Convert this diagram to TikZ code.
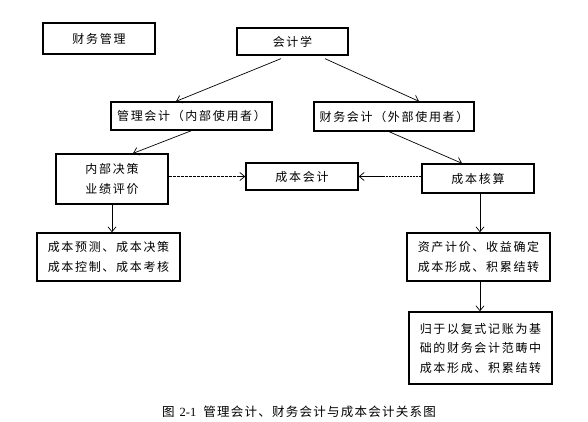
\documentclass[tikz,border=0pt]{standalone}
\usepackage{fontspec}
\setmainfont{Liberation Serif}
\newfontfamily\cjk[LetterSpace=14]{Noto Sans CJK SC}
\newfontfamily\cjkcap[LetterSpace=10]{Noto Sans CJK SC}
\usetikzlibrary{arrows.meta}
\begin{document}
\begin{tikzpicture}[x=1pt,y=-1pt,
  box/.style={draw, line width=1.3pt, inner sep=0pt, align=center,
    font=\cjk\fontsize{12}{19.5}\selectfont},
  arr/.style={line width=0.7pt, -{Straight Barb[length=5pt,width=8pt]}},
  dashA/.style={line width=1.5pt, dash pattern=on 3pt off 1pt},
  dashB/.style={line width=1pt, dash pattern=on 2pt off 1pt}]
\useasboundingbox (0,0) rectangle (588,422);
\node[box, minimum width=112pt, minimum height=31pt] (fm) at (99,38.5) {财务管理};
\node[box, minimum width=111pt, minimum height=27pt] (kj) at (292.5,41.5) {会计学};
\node[box, minimum width=161pt, minimum height=28pt] (gl) at (191.5,116) {管理会计（内部使用者）};
\node[box, minimum width=160pt, minimum height=29pt] (cw) at (394,116.5) {财务会计（外部使用者）};
\node[box, minimum width=112pt, minimum height=50pt] (nb) at (112,179) {内部决策\\业绩评价};
\node[box, minimum width=112pt, minimum height=27pt] (cbkj) at (302,176.5) {成本会计};
\node[box, minimum width=112pt, minimum height=29pt] (cbhs) at (478,178.5) {成本核算};
\node[box, minimum width=143pt, minimum height=48pt] (yc) at (108.5,257) {成本预测、成本决策\\成本控制、成本考核};
\node[box, minimum width=143pt, minimum height=48pt] (zc) at (478.5,257) {资产计价、收益确定\\成本形成、积累结转};
\node[box, minimum width=143pt, minimum height=72pt] (gy) at (480.5,348) {归于以复式记账为基\\础的财务会计范畴中\\成本形成、积累结转};
\node[inner sep=0pt, font=\fontsize{12.5}{14}\selectfont] (cap) at (299,412)
  {{\cjkcap 图}\hspace{5pt}2-1\hspace{7pt}{\cjkcap 管理会计、财务会计与成本会计关系图}};
\draw[arr] ([xshift=-11.5pt,yshift=-3pt]kj.south) -- ([xshift=-15.5pt]gl.north);
\draw[arr] ([xshift=32.5pt,yshift=-3pt]kj.south) -- ([xshift=25pt]cw.north);
\draw[arr] (gl.south) -- ([xshift=21pt]nb.north);
\draw[arr] ([xshift=-5pt]cw.south) -- ([xshift=-16pt]cbhs.north);
\draw[dashA] (nb.east |- cbkj.west) -- ([xshift=-6pt]cbkj.west);
\draw[arr] ([xshift=-8pt]cbkj.west) -- (cbkj.west);
\coordinate (m) at (382,176.5);
\draw[dashB] (cbhs.west |- cbkj.east) -- (m);
\draw[arr] (m) -- (cbkj.east);
\draw[arr] (nb.south) -- (nb.south |- yc.north);
\draw[arr] ([xshift=2pt]cbhs.south) -- ([xshift=2pt]cbhs.south |- zc.north);
\draw[arr] ([xshift=1.5pt]zc.south) -- ([xshift=1.5pt]zc.south |- gy.north);
\end{tikzpicture}
\end{document}
